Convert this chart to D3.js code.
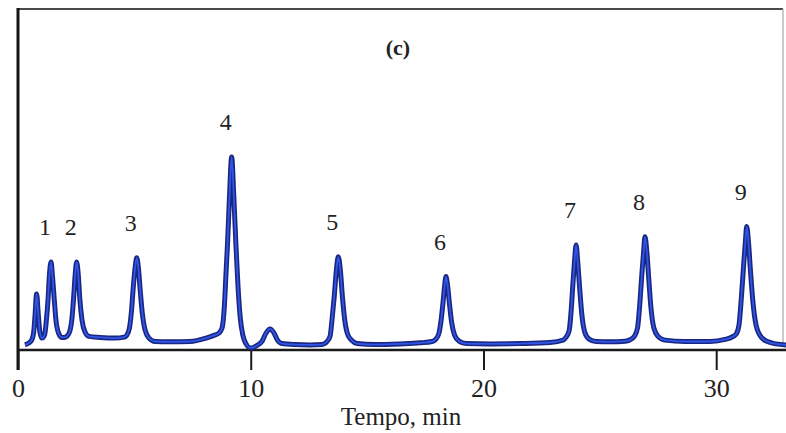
<!DOCTYPE html>
<html>
<head>
<meta charset="utf-8">
<script src="https://cdn.jsdelivr.net/npm/d3@7"></script>
<style>
  html, body { margin: 0; padding: 0; background: #fff; }
  svg { display: block; }
  text { font-family: "Liberation Serif", "DejaVu Serif", serif; fill: #222; }
</style>
</head>
<body>
<svg id="chart" width="786" height="433"></svg>
<script>
// Retention time (min) of the detector trace
const traceTime = [
  0.30, 0.56, 0.67, 0.73, 0.80, 0.87, 0.94, 1.03,
  1.14, 1.22, 1.29, 1.35, 1.42, 1.48, 1.56, 1.63, 1.74, 1.89, 1.98,
  2.11, 2.23, 2.32, 2.39, 2.46, 2.52, 2.59, 2.66, 2.75, 2.88, 3.05,
  3.52, 4.17, 4.56,
  4.68, 4.79, 4.88, 4.95, 5.04, 5.10, 5.17, 5.25, 5.34, 5.46, 5.63, 5.89,
  6.53, 7.39, 8.04, 8.42,
  8.64, 8.77, 8.87, 8.94, 9.01, 9.09, 9.18, 9.27, 9.36, 9.45, 9.55, 9.67, 9.80, 9.93, 10.03,
  10.23, 10.49, 10.66, 10.83, 11.00, 11.15, 11.35,
  11.90, 12.55, 13.06,
  13.28, 13.41, 13.50, 13.59, 13.68, 13.76, 13.85, 13.94, 14.04, 14.16, 14.33, 14.57,
  15.34, 16.42, 17.28, 17.79,
  17.96, 18.09, 18.18, 18.26, 18.33, 18.39, 18.46, 18.54, 18.63, 18.76, 18.95, 19.25,
  20.28, 21.57, 22.86, 23.42,
  23.55, 23.68, 23.77, 23.84, 23.91, 23.98, 24.05, 24.13, 24.22, 24.35, 24.54, 24.84,
  25.44, 26.09, 26.39,
  26.49, 26.62, 26.72, 26.80, 26.88, 26.94, 27.02, 27.10, 27.19, 27.32, 27.50, 27.80,
  28.66, 29.74, 30.38, 30.73,
  30.86, 30.98, 31.08, 31.17, 31.25, 31.31, 31.39, 31.47, 31.57, 31.71, 31.93, 32.23, 32.57, 33.00
];
// Detector signal (arbitrary units)
const traceSignal = [
  1.5, 2.6, 5.0, 10.0, 16.5, 10.6, 5.3, 3.5,
  4.4, 8.8, 14.7, 22.1, 25.9, 21.8, 14.7, 8.8, 5.0, 3.7, 3.7,
  4.1, 5.6, 9.4, 15.3, 22.4, 25.9, 22.1, 14.7, 8.8, 5.3, 4.0,
  3.7, 3.5, 3.8,
  4.4, 6.5, 11.8, 18.2, 24.7, 27.1, 24.4, 17.6, 10.9, 5.9, 3.5, 2.5,
  2.4, 2.5, 3.4, 4.3,
  5.0, 6.5, 13.2, 22.9, 32.4, 45.6, 56.8, 45.6, 31.5, 19.1, 9.4, 4.1, 1.8, 0.7, 0.6,
  1.2, 2.6, 5.0, 6.2, 5.0, 2.9, 1.9,
  1.6, 1.5, 1.6,
  2.5, 4.1, 9.4, 15.9, 23.5, 27.4, 23.5, 15.6, 8.8, 4.7, 2.9, 1.9,
  1.6, 1.8, 2.1, 2.5,
  3.2, 5.0, 8.8, 13.8, 18.8, 21.6, 18.8, 13.5, 8.2, 4.4, 2.6, 1.9,
  1.8, 1.9, 2.2, 2.9,
  3.8, 5.6, 11.8, 19.1, 25.9, 30.9, 25.9, 18.5, 10.9, 5.3, 3.2, 2.5,
  2.4, 2.6, 3.4,
  4.1, 6.5, 13.8, 21.8, 28.8, 33.3, 28.8, 21.2, 12.9, 6.5, 4.0, 2.9,
  2.5, 2.5, 3.1, 4.0,
  4.7, 7.4, 15.3, 24.1, 31.5, 36.3, 31.5, 23.5, 14.7, 7.4, 3.8, 2.4, 1.8, 1.5
];

// Labelled peaks
const peakLabels = ["1", "2", "3", "4", "5", "6", "7", "8", "9"];
const peakTimes = [1.42, 2.52, 5.10, 9.18, 13.76, 18.39, 23.98, 26.94, 31.31];
const peakHeights = [25.9, 25.9, 27.1, 56.8, 27.4, 21.6, 30.9, 33.3, 36.3];

const xTicks = [0, 10, 20, 30];
const xTitle = "Tempo, min";
const panelTitle = "(c)";

const svg = d3.select("#chart");
const mLeft = 18, mRight = 783, mTop = 9, mBottom = 350;

const x = d3.scaleLinear().domain([0, 32.87]).range([mLeft, mRight]);
const y = d3.scaleLinear().domain([0, 100]).range([mBottom, 10]);

// Frame: top and right borders
svg.append("line").attr("x1", mLeft).attr("x2", mRight).attr("y1", mTop).attr("y2", mTop)
  .attr("stroke", "#4a4a4a").attr("stroke-width", 2.2);
svg.append("line").attr("x1", mRight).attr("x2", mRight).attr("y1", mTop).attr("y2", mBottom - 5)
  .attr("stroke", "#b8b8b8").attr("stroke-width", 1.5);

// Left axis line (extends below as zero tick)
svg.append("line").attr("x1", mLeft).attr("x2", mLeft).attr("y1", mTop - 1).attr("y2", mBottom + 20)
  .attr("stroke", "#151515").attr("stroke-width", 3);

// Bottom axis
const xAxis = d3.axisBottom(x).tickValues(xTicks).tickSize(20).tickSizeOuter(0).tickPadding(9)
  .tickFormat(d3.format("d"));
const gx = svg.append("g").attr("transform", `translate(0,${mBottom})`).call(xAxis);
gx.select(".domain").attr("stroke", "#1a1a1a").attr("stroke-width", 2.6)
  .attr("d", `M${mLeft},0H786`);
gx.selectAll(".tick line").attr("stroke", "#1a1a1a").attr("stroke-width", 2);
gx.selectAll(".tick text").attr("font-size", 26).attr("fill", "#222")
  .style("font-family", '"Liberation Serif", serif');

// Axis title
svg.append("text").attr("x", 401).attr("y", 425).attr("text-anchor", "middle")
  .attr("font-size", 25).text(xTitle);

// Panel title
svg.append("text").attr("x", 398).attr("y", 55).attr("text-anchor", "middle")
  .attr("font-size", 22).attr("font-weight", "bold").text(panelTitle);

// Trace
const pts = traceTime.map((t, i) => [t, traceSignal[i]]);
const line = d3.line().x(d => x(d[0])).y(d => y(d[1])).curve(d3.curveMonotoneX);
svg.append("path").datum(pts).attr("d", line).attr("fill", "none")
  .attr("stroke", "#1a2680").attr("stroke-width", 5).attr("stroke-linejoin", "round");
svg.append("path").datum(pts).attr("d", line).attr("fill", "none")
  .attr("stroke", "#2f56e6").attr("stroke-width", 1.8).attr("stroke-linejoin", "round");

// Peak labels
svg.selectAll("text.peak").data(peakLabels).enter().append("text")
  .attr("class", "peak")
  .attr("x", (d, i) => x(peakTimes[i]) - 6)
  .attr("y", (d, i) => y(peakHeights[i]) - 27)
  .attr("text-anchor", "middle")
  .attr("font-size", 24)
  .text(d => d);
</script>
</body>
</html>
